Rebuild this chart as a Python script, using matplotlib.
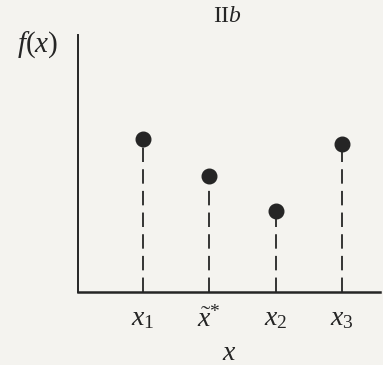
import matplotlib
matplotlib.use("Agg")
import matplotlib.pyplot as plt

plt.rcParams["mathtext.fontset"] = "custom"
plt.rcParams["mathtext.rm"] = "Liberation Serif"
plt.rcParams["mathtext.it"] = "Liberation Serif:italic"
plt.rcParams["font.family"] = "Liberation Serif"

# sample points and their function values
positions = [1, 2, 3, 4]
f_values = [1.53, 1.16, 0.81, 1.48]
tick_labels = [r"$x_1$", r"$\tilde{x}^{*}$", r"$x_2$", r"$x_3$"]

ink = "#252525"
paper = "#f4f3ef"

fig = plt.figure(figsize=(3.83, 3.65), dpi=100, facecolor=paper)
ax = fig.add_axes([78 / 383, 73 / 365, 302 / 383, 257 / 365], facecolor=paper)

for xp, fv in zip(positions, f_values):
    ax.plot([xp, xp], [0, fv], color=ink, lw=1.3, dashes=(8, 4))
ax.plot(positions, f_values, "o", color=ink, ms=10.5, zorder=3)

ax.set_xlim(0.02, 4.575)
ax.set_ylim(0, 2.57)

for side in ("top", "right"):
    ax.spines[side].set_visible(False)
ax.spines["left"].set_linewidth(1.4)
ax.spines["bottom"].set_linewidth(1.8)
ax.spines["left"].set_color(ink)
ax.spines["bottom"].set_color(ink)

ax.set_xticks(positions)
ax.set_xticklabels(tick_labels, fontsize=20, color=ink)
ax.tick_params(axis="x", length=0, pad=10)
ax.set_yticks([])

ax.set_xlabel(r"$x$", fontsize=20, color=ink, labelpad=6)
fig.text(17 / 383, 1 - 45 / 365, r"$f(x)$", fontsize=21, color=ink,
         ha="left", va="center")
fig.text(227 / 383, 1 - 16 / 365, r"$\mathrm{II}b$", fontsize=17, color=ink,
         ha="center", va="center")

fig.savefig("out.png", dpi=100, facecolor=paper)
